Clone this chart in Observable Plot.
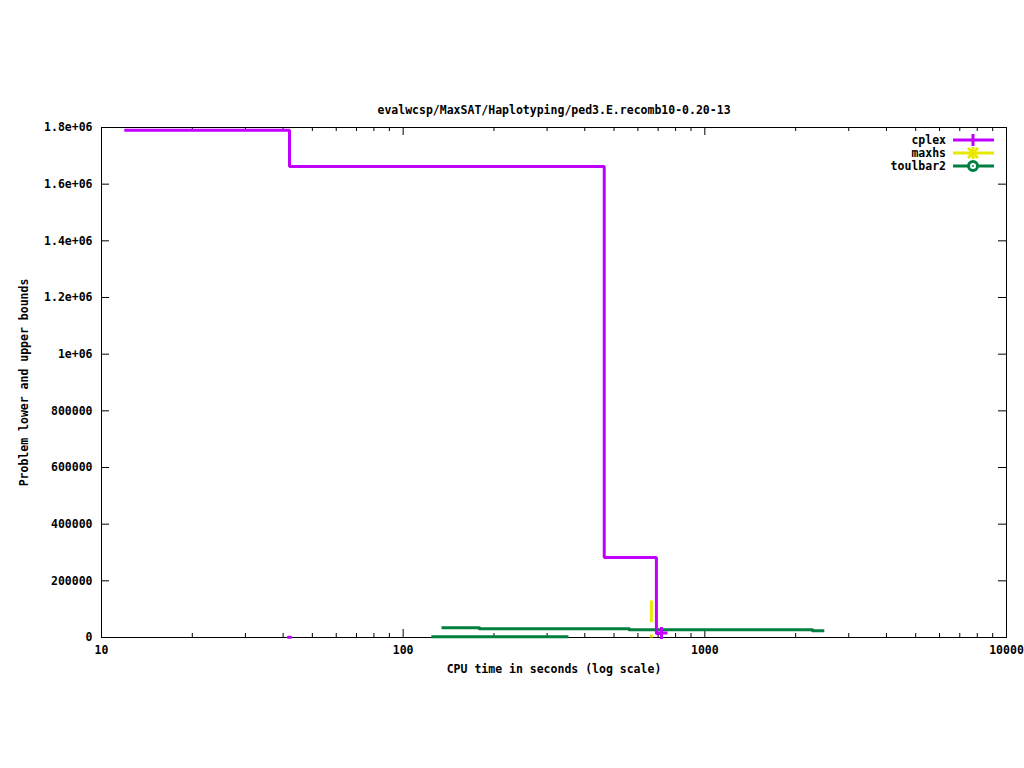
<!DOCTYPE html>
<html>
<head>
<meta charset="utf-8">
<script src="https://cdn.jsdelivr.net/npm/d3@7"></script>
<script src="https://cdn.jsdelivr.net/npm/@observablehq/plot@0.6"></script>
<style>
  html, body { margin: 0; padding: 0; background: #fff; }
  #chart svg { display: block; }
</style>
</head>
<body>
<div id="chart"></div>
<script>
// ---- data ----
const titleText = "evalwcsp/MaxSAT/Haplotyping/ped3.E.recomb10-0.20-13";
const xLabel = "CPU time in seconds (log scale)";
const yLabel = "Problem lower and upper bounds";

const seriesNames = ["cplex", "maxhs", "toulbar2"];
const seriesColors = ["#c000ff", "#e8e800", "#008040"];

// cplex upper bound (step-after)
const cplexTime = [11.9, 42, 464, 691, 721];
const cplexValue = [1790000, 1662500, 282000, 14100, 14100];
// cplex lower bound (tiny)
const cplexLowTime = [41.6, 42.4];
const cplexLowValue = [1000, 1000];

// maxhs vertical segments
const maxhsSegA_time = [665, 665];
const maxhsSegA_value = [130600, 54000];
const maxhsSegB_time = [665, 665];
const maxhsSegB_value = [10600, 0];

// toulbar2 upper bound (step-after)
const toulUpTime = [134, 179, 562, 2276, 2489];
const toulUpValue = [34200, 30700, 27200, 23600, 23600];
// toulbar2 lower bound
const toulLowTime = [124, 353];
const toulLowValue = [2500, 2500];

// ticks
const xMajor = [10, 100, 1000, 10000];
const xMinor = [20,30,40,50,60,70,80,90,200,300,400,500,600,700,800,900,2000,3000,4000,5000,6000,7000,8000,9000];
const yTicks = [0, 200000, 400000, 600000, 800000, 1000000, 1200000, 1400000, 1600000, 1800000];
const yTickLabels = ["0","200000","400000","600000","800000","1e+06","1.2e+06","1.4e+06","1.6e+06","1.8e+06"];

// ---- build ----
const W = 1024, H = 768;
const mL = 101, mR = 18, mT = 127, mB = 131;
const pw = W - mL - mR, ph = H - mT - mB;
const MAJ = 8, MIN = 4;

const zip = (xs, ys, extra = {}) => xs.map((x, i) => ({x, y: ys[i], ...extra}));
const cplexData = zip(cplexTime, cplexValue);
const cplexLow = zip(cplexLowTime, cplexLowValue);
const maxhsData = [...zip(maxhsSegA_time, maxhsSegA_value, {g: "a"}), ...zip(maxhsSegB_time, maxhsSegB_value, {g: "b"})];
const toulUp = zip(toulUpTime, toulUpValue);
const toulLow = zip(toulLowTime, toulLowValue);
const yTickData = yTicks.map((v, i) => ({v, t: yTickLabels[i]}));

const font = "'DejaVu Sans Mono', 'Liberation Mono', monospace";

const plot = Plot.plot({
  width: W, height: H,
  marginLeft: mL, marginRight: mR, marginTop: mT, marginBottom: mB,
  style: {fontFamily: font, fontSize: "11.5px", fontWeight: "bold", background: "#fff", color: "#000"},
  x: {type: "log", domain: [10, 10000], axis: null},
  y: {type: "linear", domain: [0, 1800000], axis: null},
  marks: [
    Plot.frame({stroke: "#000", strokeWidth: 1}),
    // x ticks bottom & top
    Plot.tickX(xMajor, {x: d => d, insetTop: ph - MAJ, stroke: "#000"}),
    Plot.tickX(xMajor, {x: d => d, insetBottom: ph - MAJ, stroke: "#000"}),
    Plot.tickX(xMinor, {x: d => d, insetTop: ph - MIN, stroke: "#000"}),
    Plot.tickX(xMinor, {x: d => d, insetBottom: ph - MIN, stroke: "#000"}),
    // y ticks left & right
    Plot.tickY(yTicks, {y: d => d, insetRight: pw - MAJ, stroke: "#000"}),
    Plot.tickY(yTicks, {y: d => d, insetLeft: pw - MAJ, stroke: "#000"}),
    // tick labels
    Plot.text(xMajor, {x: d => d, frameAnchor: "bottom", dy: 16, text: d => String(d), fill: "#000"}),
    Plot.text(yTickData, {y: "v", frameAnchor: "left", dx: -9, textAnchor: "end", text: "t", fill: "#000"}),
    // axis labels & title
    Plot.text([xLabel], {frameAnchor: "bottom", dy: 35, text: d => d, fill: "#000"}),
    Plot.text([yLabel], {frameAnchor: "left", dx: -77, rotate: -90, textAnchor: "middle", text: d => d, fill: "#000"}),
    Plot.text([titleText], {frameAnchor: "top", dy: -22, text: d => d, fill: "#000"}),
    // data
    Plot.line(toulLow, {x: "x", y: "y", stroke: seriesColors[2], strokeWidth: 3, strokeLinecap: "butt"}),
    Plot.line(toulUp, {x: "x", y: "y", curve: "step-after", stroke: seriesColors[2], strokeWidth: 3, strokeLinecap: "butt"}),
    Plot.line(maxhsData, {x: "x", y: "y", z: "g", stroke: seriesColors[1], strokeWidth: 3, strokeLinecap: "butt"}),
    Plot.line(cplexData, {x: "x", y: "y", curve: "step-after", stroke: seriesColors[0], strokeWidth: 3, strokeLinecap: "butt", strokeLinejoin: "miter"}),
    Plot.line(cplexLow, {x: "x", y: "y", stroke: seriesColors[0], strokeWidth: 3}),
  ]
});

// plus marker at the last cplex point, placed via the plot's scales
{
  const sx = plot.scale("x"), sy = plot.scale("y");
  const last = cplexData[cplexData.length - 1];
  const px = sx.apply(last.x), py = sy.apply(last.y);
  const g = d3.select(plot).append("g").attr("stroke", seriesColors[0]).attr("stroke-width", 3);
  g.append("line").attr("x1", px - 6).attr("x2", px + 6).attr("y1", py).attr("y2", py);
  g.append("line").attr("x1", px).attr("x2", px).attr("y1", py - 6).attr("y2", py + 6);
}

// legend (top-right, inside frame)
{
  const svg = d3.select(plot);
  const lg = svg.append("g").attr("font-family", font).attr("font-size", "11.5px").attr("font-weight", "bold");
  const textRight = 946, lineX1 = 953, lineX2 = 994, mx = 973;
  const rows = [140, 153, 166];
  seriesNames.forEach((name, i) => {
    const y = rows[i], c = seriesColors[i];
    lg.append("text").attr("x", textRight).attr("y", y).attr("dy", "0.35em").attr("text-anchor", "end").attr("fill", "#000").text(name);
    lg.append("line").attr("x1", lineX1).attr("x2", lineX2).attr("y1", y).attr("y2", y).attr("stroke", c).attr("stroke-width", 3);
    if (i === 0) {
      lg.append("line").attr("x1", mx).attr("x2", mx).attr("y1", y - 6).attr("y2", y + 6).attr("stroke", c).attr("stroke-width", 3);
    } else if (i === 1) {
      lg.append("line").attr("x1", mx).attr("x2", mx).attr("y1", y - 6).attr("y2", y + 6).attr("stroke", c).attr("stroke-width", 3);
      lg.append("line").attr("x1", mx - 5).attr("x2", mx + 5).attr("y1", y - 5).attr("y2", y + 5).attr("stroke", c).attr("stroke-width", 3);
      lg.append("line").attr("x1", mx - 5).attr("x2", mx + 5).attr("y1", y + 5).attr("y2", y - 5).attr("stroke", c).attr("stroke-width", 3);
    } else {
      lg.append("circle").attr("cx", mx).attr("cy", y).attr("r", 4.5).attr("fill", "#fff").attr("stroke", c).attr("stroke-width", 3);
      lg.append("circle").attr("cx", mx).attr("cy", y).attr("r", 1).attr("fill", c);
    }
  });
}

document.getElementById("chart").appendChild(plot);
</script>
</body>
</html>
